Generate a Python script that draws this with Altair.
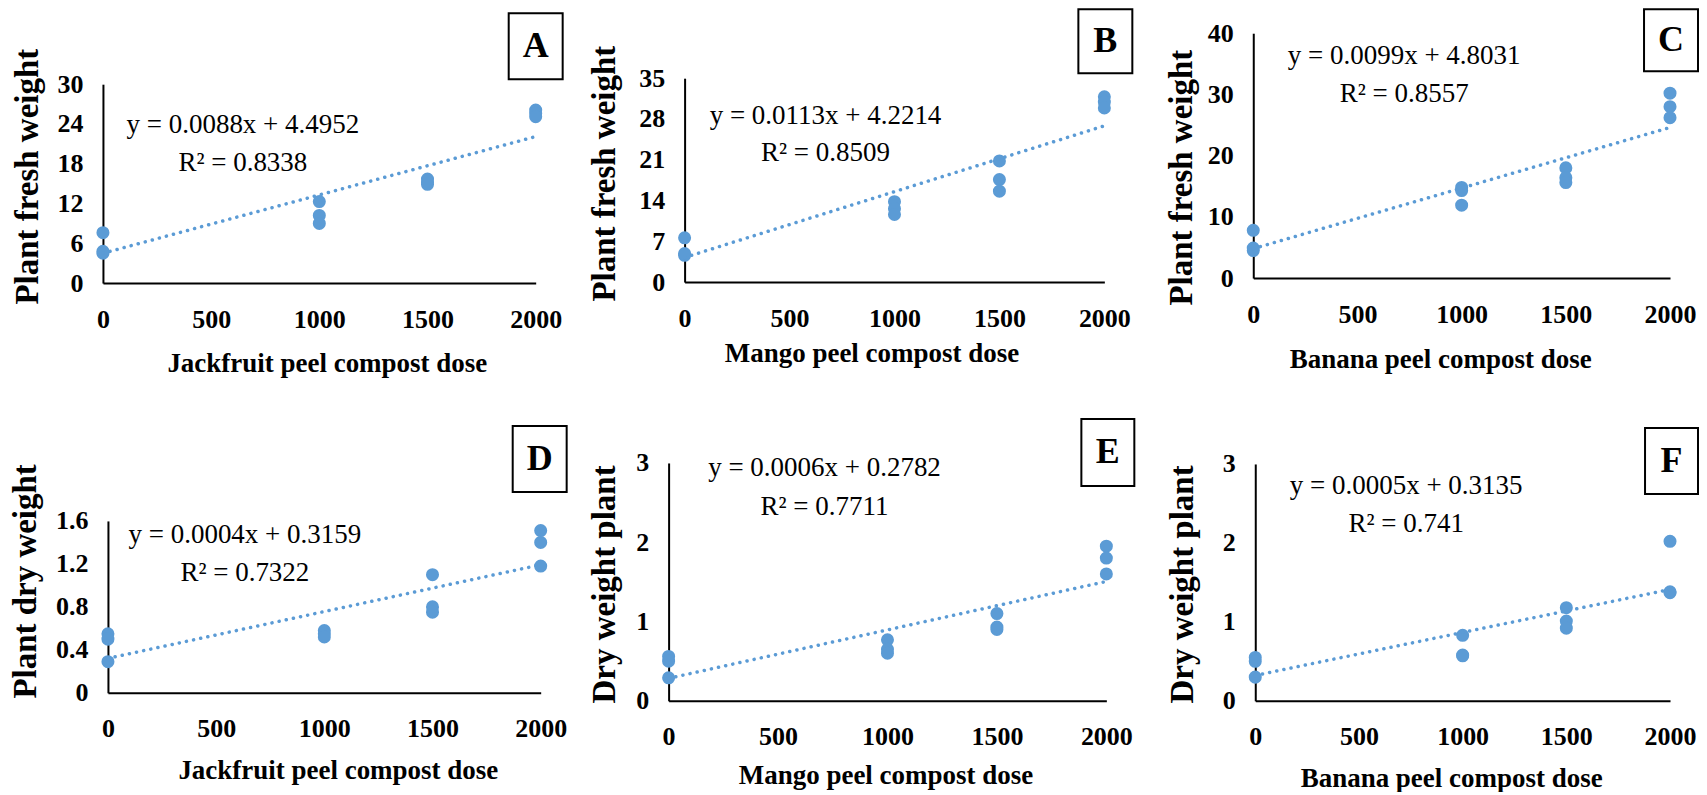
import altair as alt
import pandas as pd

FONT = "Liberation Serif"
BLUE = "#5B9BD5"

# ---------------- data ----------------
doses = [0, 0, 0, 1000, 1000, 1000, 1500, 1500, 1500, 2000, 2000, 2000]
x_ticks = [0, 500, 1000, 1500, 2000]

a_vals = [7.6, 4.8, 4.5, 12.3, 10.2, 9.0, 15.7, 15.2, 14.9, 26.1, 25.6, 25.1]
b_vals = [7.6, 4.6, 4.9, 13.8, 12.6, 11.6, 20.8, 17.6, 15.6, 31.8, 30.9, 29.9]
c_vals = [7.8, 4.5, 4.9, 14.8, 14.3, 11.9, 18.0, 16.4, 15.6, 30.2, 28.0, 26.2]
d_vals = [0.55, 0.50, 0.29, 0.58, 0.55, 0.52, 1.10, 0.80, 0.75, 1.51, 1.40, 1.18]
e_vals = [0.56, 0.50, 0.29, 0.77, 0.65, 0.60, 1.10, 0.93, 0.90, 1.95, 1.80, 1.60]
f_vals = [0.55, 0.50, 0.30, 0.83, 0.58, 0.57, 1.18, 1.01, 0.92, 2.02, 1.38, 1.37]

letters = ["A", "B", "C", "D", "E", "F"]
x_titles = ["Jackfruit peel compost dose", "Mango peel compost dose", "Banana peel compost dose",
            "Jackfruit peel compost dose", "Mango peel compost dose", "Banana peel compost dose"]
y_titles = ["Plant fresh weight", "Plant fresh weight", "Plant fresh weight",
            "Plant dry weight", "Dry weight plant", "Dry weight plant"]
y_ticks = [[0, 6, 12, 18, 24, 30], [0, 7, 14, 21, 28, 35], [0, 10, 20, 30, 40],
           [0, 0.4, 0.8, 1.2, 1.6], [0, 1, 2, 3], [0, 1, 2, 3]]
series = [a_vals, b_vals, c_vals, d_vals, e_vals, f_vals]
# printed trend-line coefficients (4 significant digits for A-C; D-F are printed
# too coarsely, so their trend line is fitted from the points by Vega-Lite)
slopes = [0.0088, 0.0113, 0.0099, 0.0004, 0.0006, 0.0005]
intercepts = [4.4952, 4.2214, 4.8031, 0.3159, 0.2782, 0.3135]
fit_from_points = [False, False, False, True, True, True]
eq_texts = ["y = 0.0088x + 4.4952", "y = 0.0113x + 4.2214", "y = 0.0099x + 4.8031",
            "y = 0.0004x + 0.3159", "y = 0.0006x + 0.2782", "y = 0.0005x + 0.3135"]
r2_texts = ["R² = 0.8338", "R² = 0.8509", "R² = 0.8557",
            "R² = 0.7322", "R² = 0.7711", "R² = 0.741"]

# ---------------- layout (pixels) ----------------
layout = [
    dict(w=433, h=250, xr=[0, 433], yr=[250, 51], xoff=0, yoff=0, xt=(224, 80), yt=(-75, 143), box=(406, -20, 460, 46), eq=(140, 100, 138)),
    dict(w=420, h=250, xr=[0, 420], yr=[249, 45], xoff=-1, yoff=0, xt=(187, 71), yt=(-80, 140), box=(394, -24, 448, 40), eq=(141, 91, 128)),
    dict(w=417, h=250, xr=[0, 417], yr=[245, 0], xoff=-5, yoff=0, xt=(187, 81), yt=(-72, 144), box=(391, -24, 445, 38), eq=(151, 31, 69)),
    dict(w=438, h=238, xr=[5, 438], yr=[230, 58], xoff=-8, yoff=-5, xt=(235, 78), yt=(-82, 118), box=(410, -37, 464, 29), eq=(142, 80, 118)),
    dict(w=438, h=238, xr=[0, 438], yr=[238, 0], xoff=0, yoff=0, xt=(217, 75), yt=(-64, 121), box=(413, -44, 466, 23), eq=(156, 13, 52)),
    dict(w=415, h=238, xr=[0, 415], yr=[238, 1], xoff=0, yoff=0, xt=(196, 78), yt=(-73, 121), box=(390, -35, 443, 31), eq=(151, 31, 69)),
]


def panel(i, anchor=False):
    L = layout[i]
    ymax = y_ticks[i][-1]
    pts = pd.DataFrame({"dose": doses, "val": series[i]})

    xscale = alt.Scale(domain=[0, 2000], range=L["xr"], nice=False, zero=False)
    yscale = alt.Scale(domain=[0, ymax], range=L["yr"], nice=False, zero=False)

    xaxis = alt.Axis(values=x_ticks, format="d", ticks=False, tickSize=0, grid=False,
                     domainColor="black", domainWidth=2, labelFlush=False, labelOverlap=False,
                     labelFont=FONT, labelFontSize=26, labelFontWeight="bold", labelColor="black",
                     labelPadding=36, labelBaseline="middle", offset=L["xoff"],
                     title=x_titles[i], titleFont=FONT, titleFontSize=27, titleFontWeight="bold",
                     titleColor="black", titleX=L["xt"][0], titleY=L["xt"][1],
                     titleAlign="center", titleBaseline="middle")
    yaxis = alt.Axis(values=y_ticks[i], format="~g", ticks=False, tickSize=0, grid=False,
                     domainColor="black", domainWidth=2, labelOverlap=False,
                     labelFont=FONT, labelFontSize=26, labelFontWeight="bold", labelColor="black",
                     labelPadding=20, offset=L["yoff"],
                     title=y_titles[i], titleFont=FONT, titleFontSize=33, titleFontWeight="bold",
                     titleColor="black", titleX=L["yt"][0], titleY=L["yt"][1],
                     titleAlign="center", titleBaseline="middle")

    points = alt.Chart(pts).mark_circle(size=170, color=BLUE, opacity=1).encode(
        x=alt.X("dose:Q", scale=xscale, axis=xaxis),
        y=alt.Y("val:Q", scale=yscale, axis=yaxis),
    )
    line_style = dict(color=BLUE, strokeWidth=3.5, strokeDash=[0.1, 7.2], strokeCap="round")
    if fit_from_points[i]:
        trend = alt.Chart(pts).transform_regression("dose", "val").mark_line(**line_style).encode(
            x=alt.X("dose:Q", scale=xscale),
            y=alt.Y("val:Q", scale=yscale),
        )
    else:
        line_df = pd.DataFrame({"dose": [0, 2000],
                                "val": [intercepts[i], slopes[i] * 2000 + intercepts[i]]})
        trend = alt.Chart(line_df).mark_line(**line_style).encode(
            x=alt.X("dose:Q", scale=xscale),
            y=alt.Y("val:Q", scale=yscale),
        )
    eq_df = pd.DataFrame({"t": [eq_texts[i]]})
    r2_df = pd.DataFrame({"t": [r2_texts[i]]})
    eq1 = alt.Chart(eq_df).mark_text(font=FONT, fontSize=27, color="black", align="center",
                                     baseline="alphabetic").encode(
        x=alt.value(L["eq"][0]), y=alt.value(L["eq"][1]), text="t:N")
    eq2 = alt.Chart(r2_df).mark_text(font=FONT, fontSize=27, color="black", align="center",
                                     baseline="alphabetic").encode(
        x=alt.value(L["eq"][0]), y=alt.value(L["eq"][2]), text="t:N")
    bx0, by0, bx1, by1 = L["box"]
    lab_df = pd.DataFrame({"t": [letters[i]]})
    box = alt.Chart(lab_df).mark_rect(fill="white", stroke="black", strokeWidth=2).encode(
        x=alt.value(bx0), x2=alt.value(bx1), y=alt.value(by0), y2=alt.value(by1))
    letter = alt.Chart(lab_df).mark_text(font=FONT, fontSize=36, fontWeight="bold", color="black",
                                         align="center", baseline="middle").encode(
        x=alt.value((bx0 + bx1) / 2), y=alt.value((by0 + by1) / 2), text="t:N")
    layers = [points, trend, eq1, eq2, box, letter]
    if anchor:
        anc = alt.Chart(lab_df).mark_rect(fill="white", opacity=1).encode(
            x=alt.value(-95), x2=alt.value(-94), y=alt.value(-24), y2=alt.value(-23))
        layers.append(anc)
    return alt.layer(*layers).properties(width=L["w"], height=L["h"])


row1 = alt.hconcat(panel(0, anchor=True), panel(1), panel(2), spacing=149, bounds="flush")
row2 = alt.hconcat(panel(3), alt.hconcat(panel(4), panel(5), spacing=149, bounds="flush"),
                   spacing=128, bounds="flush")

# with flush bounds the nested row group counts as zero height, so the spacing
# spans row 1's plot height (250) plus the gap between rows (180)
chart = alt.vconcat(row1, row2, spacing=430, bounds="flush").properties(
    padding=0, background="white"
).configure_view(stroke=None)

chart.save("out.html", embed_options={"renderer": "svg", "actions": False})
